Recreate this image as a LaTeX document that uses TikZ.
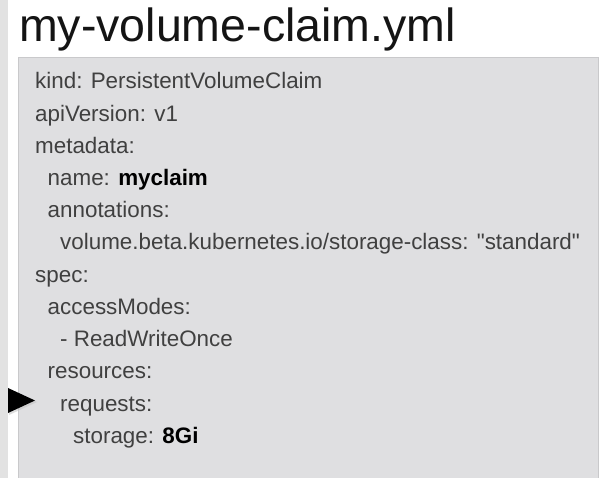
\documentclass[tikz,border=0pt]{standalone}
\usepackage{fontspec}
\setmainfont{Liberation Sans}[Ligatures=TeXOff]
\definecolor{stripgray}{HTML}{E2E2E2}
\definecolor{boxgray}{HTML}{DFDFE1}
\definecolor{boxline}{HTML}{C9C9CB}
\definecolor{txtgray}{HTML}{404040}
\tikzset{
  yamlline/.style={anchor=base west, inner sep=0pt, text=txtgray, font=\fontsize{22.4}{25}\selectfont},
  titletext/.style={anchor=base west, inner sep=0pt, text=black!92, font=\fontsize{46.5}{50}\selectfont},
  codebox/.style={fill=boxgray, draw=boxline, line width=1pt},
  pointer/.style={fill=black}
}
\newcommand{\kwbold}[1]{{\bfseries\color{black}#1}}
\begin{document}
\begin{tikzpicture}[x=1pt,y=-1pt]
\useasboundingbox (0,0) rectangle (600,478);
\fill[white] (0,0) rectangle (600,478);
\fill[stripgray] (0,0) rectangle (8,478);
\draw[codebox] (18,58) -- (598,58) -- (598,480) -- (18,480) -- cycle;
\node[titletext] (title) at (19,42) {my-volume-claim.yml};
\def\dy{32.2}
\node[yamlline] (l1) at (35,89) {kind: PersistentVolumeClaim};
\node[yamlline] (l2) at (35,89+\dy) {apiVersion: v1};
\node[yamlline] (l3) at (35,89+2*\dy) {metadata:};
\node[yamlline] (l4) at (47.5,89+3*\dy) {name: \kwbold{myclaim}};
\node[yamlline] (l5) at (47.5,89+4*\dy) {annotations:};
\node[yamlline] (l6) at (60,89+5*\dy) {volume.beta.kubernetes.io/storage-class: "standard"};
\node[yamlline] (l7) at (35,89+6*\dy) {spec:};
\node[yamlline] (l8) at (47.5,89+7*\dy) {accessModes:};
\node[yamlline] (l9) at (60,89+8*\dy) {- ReadWriteOnce};
\node[yamlline] (l10) at (47.5,89+9*\dy) {resources:};
\node[yamlline] (l11) at (60,89+10*\dy) {requests:};
\node[yamlline] (l12) at (73,89+11*\dy) {storage: \kwbold{8Gi}};
\fill[black!25, opacity=0.5] (9,390) -- (37,402) -- (9,415) -- cycle;
\fill[pointer] (8,388) -- (35,400.5) -- (8,413) -- cycle;
\end{tikzpicture}
\end{document}
